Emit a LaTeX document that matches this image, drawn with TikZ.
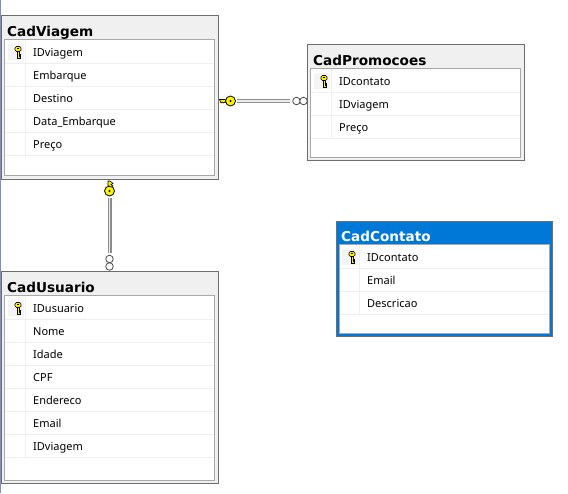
\documentclass[tikz,border=0pt]{standalone}
\usepackage{fontspec}
\setmainfont{Noto Sans}
\newfontfamily\titlefont{DejaVu Sans}
\definecolor{framegray}{HTML}{6E6E6E}
\definecolor{innergray}{HTML}{A8A8A8}
\definecolor{rowgray}{HTML}{EFEFEF}
\definecolor{titlegray}{HTML}{F0F0F0}
\definecolor{titleblue}{HTML}{0078D7}
\definecolor{edgeblue}{HTML}{7F8FC0}
\definecolor{keyyellow}{HTML}{FFF200}
\tikzset{
  tablebox/.style={draw=framegray, fill=titlegray, anchor=north west, outer sep=0pt, inner sep=0pt, line width=1pt},
  activebox/.style={tablebox, fill=titleblue},
  fieldbox/.style={draw=innergray, fill=white, anchor=north west, outer sep=0pt, inner sep=0pt, line width=1pt},
  tabletitle/.style={anchor=base west, inner sep=0pt, font=\titlefont\fontsize{13.6}{13.6}\selectfont\bfseries},
  fieldname/.style={anchor=base west, inner sep=0pt, font=\fontsize{11}{11}\selectfont},
  rowline/.style={draw=rowgray, line width=1pt},
  keycell/.style={fill=rowgray!70, draw=none, minimum size=16pt, inner sep=0pt},
  keybow/.style={circle, fill=keyyellow, draw=black, line width=.8pt, minimum size=10pt, inner sep=0pt},
  ringend/.style={circle, fill=white, draw=black!70, line width=.8pt, minimum size=7.5pt, inner sep=0pt},
  relline/.style={draw=black!45, double=black!8, double distance=1.6pt, line width=1.2pt, shorten >=2pt, shorten <=1.5pt},
  keyicon/.pic={
    \draw[black, fill=keyyellow, line width=.6pt] (-1,-.5) -- (-1,6) -- (2.5,6) -- (2.5,4.5) -- (1,4.5) -- (1,3.5) -- (2.5,3.5) -- (2.5,2) -- (1,2) -- (1,-.5);
    \draw[black, fill=keyyellow, line width=.6pt, rounded corners=1.5pt] (-3,-5.5) rectangle (3,-.5);
    \fill[black] (-.8,-3.6) rectangle (.8,-2.6);
  }
}
\begin{document}
\begin{tikzpicture}[x=1pt,y=-1pt]
  \useasboundingbox (0,0) rectangle (568,493);
  \fill[white] (0,0) rectangle (568,493);
  \draw[edgeblue, line width=1pt] (.5,0) -- (.5,493);

  % CadViagem
  \node[tablebox, minimum width=217pt, minimum height=164pt] (viagem) at (1.5,15.5) {};
  \node[fieldbox, minimum width=210pt, minimum height=136pt] (viagemF) at (4.5,39.5) {};
  \node[tabletitle] (viagemT) at (7,36) {CadViagem};
  \node[keycell] (viagemK) at (16,51.5) {};
  \pic at (18,52) {keyicon};
  \node[fieldname] (v1) at (33,56) {IDviagem};
  \node[fieldname] (v2) at (33,79) {Embarque};
  \node[fieldname] (v3) at (33,102) {Destino};
  \node[fieldname] (v4) at (33,125) {Data\_Embarque};
  \node[fieldname] (v5) at (33,148) {Preço};
  \foreach \y in {63,86,109,132,155} \draw[rowline] (5,\y) -- (214,\y);
  \draw[rowline] (25,40) -- (25,155);

  % CadPromocoes
  \node[tablebox, minimum width=217pt, minimum height=116pt] (promo) at (307.5,44.5) {};
  \node[fieldbox, minimum width=210pt, minimum height=89pt] (promoF) at (310.5,68.5) {};
  \node[tabletitle] (promoT) at (313,65) {CadPromocoes};
  \node[keycell] (promoK) at (322,80.5) {};
  \pic at (324,81) {keyicon};
  \node[fieldname] (p1) at (339,85) {IDcontato};
  \node[fieldname] (p2) at (339,108) {IDviagem};
  \node[fieldname] (p3) at (339,131) {Preço};
  \foreach \y in {92,115,138} \draw[rowline] (311,\y) -- (520,\y);
  \draw[rowline] (331,69) -- (331,138);

  % CadContato
  \node[activebox, minimum width=216pt, minimum height=115pt] (contato) at (336.5,221.5) {};
  \node[fieldbox, minimum width=210pt, minimum height=89pt] (contatoF) at (339.5,244.5) {};
  \draw[titleblue, line width=1pt] (contato.north west)++(1,1) rectangle (551,335);
  \node[tabletitle, text=white] (contatoT) at (341,241) {CadContato};
  \node[keycell] (contatoK) at (350,256.5) {};
  \pic at (352,257) {keyicon};
  \node[fieldname] (c1) at (367,261) {IDcontato};
  \node[fieldname] (c2) at (367,284) {Email};
  \node[fieldname] (c3) at (367,307) {Descricao};
  \foreach \y in {268,291,314} \draw[rowline] (340,\y) -- (549,\y);
  \draw[rowline] (359,245) -- (359,314);

  % CadUsuario
  \node[tablebox, minimum width=217pt, minimum height=212pt] (usuario) at (1.5,271.5) {};
  \node[fieldbox, minimum width=210pt, minimum height=185pt] (usuarioF) at (4.5,295.5) {};
  \node[tabletitle] (usuarioT) at (7,292) {CadUsuario};
  \node[keycell] (usuarioK) at (16,307.5) {};
  \pic at (18,308) {keyicon};
  \node[fieldname] (u1) at (33,312) {IDusuario};
  \node[fieldname] (u2) at (33,335) {Nome};
  \node[fieldname] (u3) at (33,358) {Idade};
  \node[fieldname] (u4) at (33,381) {CPF};
  \node[fieldname] (u5) at (33,404) {Endereco};
  \node[fieldname] (u6) at (33,427) {Email};
  \node[fieldname] (u7) at (33,450) {IDviagem};
  \foreach \y in {319,342,365,388,411,434,457} \draw[rowline] (5,\y) -- (214,\y);
  \draw[rowline] (25,296) -- (25,457);

  % relacionamentos
  \node[ringend] (r1a) at (296.5,101) {};
  \node[ringend] (r1b) at (303.5,101) {};
  \node[keybow] (k1) at (230.5,101) {};
  \node[ringend] (r2a) at (109.5,259) {};
  \node[ringend] (r2b) at (109.5,266.5) {};
  \node[keybow] (k2) at (109.5,191) {};
  \draw[relline] (k1) -- (r1a);
  \draw[relline] (k2) -- (r2a);
  \draw[black, fill=keyyellow, line width=.6pt] (k1.west)++(0,-1.5) -- (219.5,99.5) -- (221,103) -- (222.5,102) -- (223.5,103) -- (225,102) -- (226,102.5) -- cycle;
  \draw[black, fill=keyyellow, line width=.6pt] (k2.north)++(-1.5,0) -- (108,181) -- (110,181) -- (113,183.5) -- (111,184.5) -- (113,186) -- (111,187) -- cycle;
  \fill[black] (k1) circle (1.2);
  \fill[black] (k2) circle (1.2);
\end{tikzpicture}
\end{document}
